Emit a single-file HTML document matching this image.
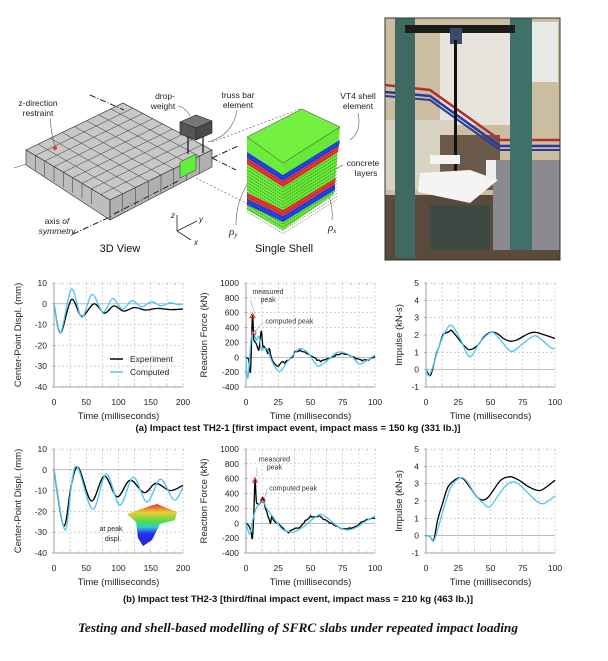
<!DOCTYPE html>
<html><head><meta charset="utf-8">
<style>
html,body{margin:0;padding:0;background:#fff;}
svg{display:block;font-family:"Liberation Sans",Arial,sans-serif;}
</style></head>
<body>
<svg id="s" width="608" height="661" viewBox="0 0 608 661" xmlns="http://www.w3.org/2000/svg">
<g stroke="#222" stroke-width="0.6">
  <polygon points="26,150 123,103 212,150 110,200" fill="#c8c8c8"/>
  <polygon points="26,150 110,200 110,220 26,165" fill="#bdbdbd"/>
  <polygon points="110,200 212,150 212,167 110,220" fill="#b0b0b0"/>
</g>
<g id="grid3d" stroke="#333" stroke-width="0.5" fill="none"></g>
<polygon points="180,162 196,154 196,170 180,178" fill="#5ef03a" stroke="#333" stroke-width="0.5"/>
<circle cx="55" cy="148" r="2" fill="#e33"/>
<g stroke="#222" stroke-width="1" stroke-dasharray="6,2,1,2" fill="none">
  <line x1="90" y1="95" x2="124" y2="110"/>
  <line x1="73" y1="234" x2="112" y2="216"/>
  <line x1="114" y1="214" x2="180" y2="180"/>
  <line x1="212" y1="158" x2="238" y2="146"/>
  <line x1="212" y1="158" x2="236" y2="170"/>
</g>
<line x1="14" y1="168" x2="26" y2="164" stroke="#555" stroke-width="0.6"/>
<g stroke="#222" stroke-width="0.6">
  <polygon points="180,122 196,115 212,121 196,128" fill="#777"/>
  <polygon points="180,122 196,128 196,140 180,134" fill="#555"/>
  <polygon points="196,128 212,121 212,133 196,140" fill="#4a4a4a"/>
</g>
<line x1="188" y1="137" x2="188" y2="154" stroke="#111" stroke-width="1.2"/>
<line x1="203" y1="137" x2="203" y2="153" stroke="#111" stroke-width="1.2"/>
<g stroke="#555" stroke-width="0.6" fill="none">
  <path d="M50,118 Q52,138 55,146"/>
  <path d="M178,106 Q186,108 190,116"/>
  <path d="M237,110 Q233,135 208,142"/>
  <line x1="212" y1="142" x2="300" y2="109" stroke-dasharray="2,2"/>
  <line x1="196" y1="178" x2="250" y2="205" stroke-dasharray="2,2"/>
  <path d="M358,113 Q362,132 350,140"/>
  <path d="M343,165 Q338,168 334,170"/>
  <path d="M236,225 Q236,200 250,180"/>
  <path d="M332,220 Q334,200 320,180"/>
</g>
<g>
  <polygon points="247,137 283,163 283,230 247,210" fill="#6cec3c"/>
  <polygon points="283,163 340,127 334,194 283,230" fill="#66e838"/>
  <polygon points="247,152 283,175 283,181 247,158" fill="#2244ee"/>
  <polygon points="283,175 340,140 339,146 283,181" fill="#2244ee"/>
  <polygon points="247,158 283,181 283,187 247,164" fill="#ee3333"/>
  <polygon points="283,181 339,146 338,152 283,187" fill="#ee3333"/>
  <polygon points="247,193 283,210 283,216 247,199" fill="#ee3333"/>
  <polygon points="283,210 336,178 335,184 283,216" fill="#ee3333"/>
  <polygon points="247,199 283,216 283,222 247,205" fill="#2244ee"/>
  <polygon points="283,216 335,184 335,190 283,222" fill="#2244ee"/>
  <g id="lay" stroke="#111" stroke-width="0.4" stroke-dasharray="1.5,1" fill="none"></g>
  <polygon points="247,137 302,109 340,127 283,163" fill="#74f040" stroke="#333" stroke-width="0.5"/>
</g>
<g stroke="#222" stroke-width="0.8" fill="none">
  <line x1="177" y1="231" x2="177" y2="215"/>
  <line x1="177" y1="231" x2="197" y2="221"/>
  <line x1="177" y1="231" x2="191" y2="240"/>
</g>
<g font-size="8" fill="#222" font-style="italic">
  <text x="171" y="218">z</text><text x="199" y="222">y</text><text x="194" y="245">x</text>
</g>
<g font-size="8.5" fill="#222" text-anchor="middle">
  <text x="38" y="106">z-direction</text><text x="38" y="116">restraint</text>
  <text x="165" y="99">drop-</text><text x="163" y="109">weight</text>
  <text x="238" y="98">truss bar</text><text x="238" y="108">element</text>
  <text x="358" y="99">VT4 shell</text><text x="358" y="109">element</text>
  <text x="363" y="166">concrete</text><text x="366" y="176">layers</text>
  <text x="57" y="224">axis <tspan font-style="italic">of</tspan></text>
  <text x="57" y="234" font-style="italic">symmetry</text>
</g>
<g font-size="11" fill="#222" font-style="italic" font-family="Liberation Serif,serif">
  <text x="229" y="235">ρ<tspan font-size="7" dy="2">y</tspan></text>
  <text x="328" y="231">ρ<tspan font-size="7" dy="2">x</tspan></text>
</g>
<g font-size="11" fill="#111" text-anchor="middle">
  <text x="120" y="252">3D View</text><text x="284" y="252">Single Shell</text>
</g>
<g>
  <rect x="385" y="18" width="175" height="242" fill="#cbbd9f"/>
  <rect x="440" y="25" width="70" height="100" fill="#e6e4dc"/>
  <rect x="530" y="22" width="28" height="60" fill="#e8eae8"/>
  <rect x="385" y="120" width="70" height="70" fill="#d8d2c2"/>
  <rect x="385" y="195" width="175" height="65" fill="#5a4a3c"/>
  <rect x="440" y="135" width="60" height="55" fill="#6b5a4a"/>
  <path d="M385,85 L430,90 L500,140 L560,140" stroke="#b03030" stroke-width="2.5" fill="none"/>
  <path d="M385,92 L430,96 L500,146 L560,146" stroke="#2a3a9a" stroke-width="2.5" fill="none"/>
  <path d="M385,96 L430,100 L500,150 L560,150" stroke="#2a3a9a" stroke-width="2" fill="none"/>
  <rect x="493" y="160" width="67" height="90" fill="#8a8a90"/>
  <rect x="395" y="18" width="20" height="240" fill="#3e6a62"/>
  <rect x="510" y="18" width="22" height="232" fill="#40706a"/>
  <rect x="405" y="25" width="110" height="8" fill="#1c1c1c"/>
  <rect x="450" y="28" width="12" height="16" fill="#3a4a6a"/>
  <rect x="454" y="40" width="3" height="150" fill="#111"/>
  <polygon points="420,173 470,170 498,180 470,203 418,192" fill="#f4f4f4"/>
  <rect x="430" y="155" width="30" height="9" fill="#f4f4f4"/>
  <rect x="486" y="160" width="10" height="20" fill="#eee"/>
  <rect x="430" y="205" width="60" height="45" fill="#3d4a44"/>
  <rect x="385" y="18" width="175" height="242" fill="none" stroke="#333" stroke-width="1"/>
</g>
<g id="charts"></g>
<g font-weight="bold" font-size="9" fill="#111" text-anchor="middle">
  <text x="298" y="431" textLength="325" lengthAdjust="spacingAndGlyphs">(a) Impact test TH2-1 [first impact event, impact mass = 150 kg (331 lb.)]</text>
  <text x="298" y="602" textLength="350" lengthAdjust="spacingAndGlyphs">(b) Impact test TH2-3 [third/final impact event, impact mass = 210 kg (463 lb.)]</text>
</g>
<text x="298" y="632" text-anchor="middle" font-family="Liberation Serif,serif" font-style="italic" font-weight="bold" font-size="13" fill="#111" textLength="440" lengthAdjust="spacingAndGlyphs">Testing and shell-based modelling of SFRC slabs under repeated impact loading</text>
</svg>
<script>
var NS="http://www.w3.org/2000/svg";
function el(p,t,a,txt){var e=document.createElementNS(NS,t);for(var k in a)e.setAttribute(k,a[k]);if(txt!=null)e.textContent=txt;p.appendChild(e);return e;}
var g3=document.getElementById('grid3d');
function L(a,b,t){return [a[0]+(b[0]-a[0])*t,a[1]+(b[1]-a[1])*t];}
var A=[26,150],B=[123,103],C=[212,150],D=[110,200];
for(var i=1;i<9;i++){var t=i/9;var p=L(A,D,t),q=L(B,C,t);el(g3,'line',{x1:p[0],y1:p[1],x2:q[0],y2:q[1]});}
for(var i=1;i<8;i++){var t=i/8;var p=L(A,B,t),q=L(D,C,t);el(g3,'line',{x1:p[0],y1:p[1],x2:q[0],y2:q[1]});}
for(var i=1;i<8;i++){var t=i/8;var p=L(A,D,i/9);el(g3,'line',{x1:p[0],y1:p[1],x2:p[0],y2:p[1]+15});var q=L(D,C,t);el(g3,'line',{x1:q[0],y1:q[1],x2:q[0],y2:q[1]+18});}
var lay=document.getElementById('lay');
for(var y=168;y<228;y+=3.2){el(lay,'path',{d:'M247,'+(y-14)+' L283,'+(y+8)+' L337,'+(y-26)});}
var CH=document.getElementById('charts');
function cr(pts){var d='M'+pts[0][0].toFixed(1)+','+pts[0][1].toFixed(1);
 for(var i=0;i<pts.length-1;i++){var p0=pts[Math.max(0,i-1)],p1=pts[i],p2=pts[i+1],p3=pts[Math.min(pts.length-1,i+2)];
 var c1=[p1[0]+(p2[0]-p0[0])/6,p1[1]+(p2[1]-p0[1])/6],c2=[p2[0]-(p3[0]-p1[0])/6,p2[1]-(p3[1]-p1[1])/6];
 d+=' C'+c1[0].toFixed(1)+','+c1[1].toFixed(1)+' '+c2[0].toFixed(1)+','+c2[1].toFixed(1)+' '+p2[0].toFixed(1)+','+p2[1].toFixed(1);}return d;}
function chart(o){
 var x0=o.x0,x1=o.x0+129,y0=o.y0,y1=o.y0+104;
 var X=function(v){return x0+(v-o.xr[0])/(o.xr[1]-o.xr[0])*(x1-x0);};
 var Y=function(v){return y1-(v-o.yr[0])/(o.yr[1]-o.yr[0])*(y1-y0);};
 var g=el(CH,'g',{});
 for(var i=1;i<=8;i++){var x=x0+i*(x1-x0)/8;el(g,'line',{x1:x,y1:y0,x2:x,y2:y1,stroke:'#bbb','stroke-width':0.6,'stroke-dasharray':'2,2'});}
 for(var i=0;i<o.yt.length;i++){var y=Y(o.yt[i]);el(g,'line',{x1:x0,y1:y,x2:x1,y2:y,stroke:o.yt[i]==0?'#999':'#bbb','stroke-width':0.6,'stroke-dasharray':o.yt[i]==0?'':'2,2'});
  el(g,'line',{x1:x0-2,y1:y,x2:x0,y2:y,stroke:'#888','stroke-width':0.6});
  el(g,'text',{x:x0-7,y:y+3,'font-size':8.5,'text-anchor':'end',fill:'#222'},o.yt[i]);}
 for(var i=0;i<=16;i++){var x=x0+i*(x1-x0)/16;el(g,'line',{x1:x,y1:y0,x2:x,y2:y0+2,stroke:'#999','stroke-width':0.5});el(g,'line',{x1:x,y1:y1-2,x2:x,y2:y1,stroke:'#999','stroke-width':0.5});}
 el(g,'line',{x1:x0,y1:y0,x2:x0,y2:y1,stroke:'#888','stroke-width':0.8});
 el(g,'line',{x1:x0,y1:y1,x2:x1,y2:y1,stroke:'#888','stroke-width':0.8});
 for(var i=0;i<o.xt.length;i++){el(g,'text',{x:X(o.xt[i]),y:y1+18,'font-size':8.5,'text-anchor':'middle',fill:'#222'},o.xt[i]);}
 el(g,'text',{x:(x0+x1)/2,y:y1+32,'font-size':9.5,'text-anchor':'middle',fill:'#222'},'Time (milliseconds)');
 var tx=o.tx;el(g,'text',{x:tx,y:(y0+y1)/2,'font-size':9.5,'text-anchor':'middle',fill:'#222',transform:'rotate(-90 '+tx+' '+(y0+y1)/2+')'},o.yl);
 if(o.extra)o.extra(g,X,Y);
 el(g,'path',{d:cr(o.exp.map(function(p){return[X(p[0]),Y(p[1])];})),stroke:'#000','stroke-width':1.3,fill:'none'});
 el(g,'path',{d:cr(o.cmp.map(function(p){return[X(p[0]),Y(p[1])];})),stroke:'#4cc8f0','stroke-width':1.3,fill:'none'});
 if(o.after)o.after(g,X,Y);
}
function jag(pts,amp){var out=[];for(var i=0;i<pts.length-1;i++){var a=pts[i],b=pts[i+1];out.push(a);var n=Math.floor((b[0]-a[0])/0.8);for(var k=1;k<n;k++){var t=k/n;out.push([a[0]+(b[0]-a[0])*t,a[1]+(b[1]-a[1])*t+(Math.sin(k*12.9+i*7.1)*amp)]);}}out.push(pts[pts.length-1]);return out;}
function peaks(tri,cir,mx,my,cx,cy){return function(g,X,Y){
 el(g,'line',{x1:X(tri[0])+2,y1:Y(tri[1])-3,x2:X(mx)-2,y2:Y(my)+6,stroke:'#888','stroke-width':0.5});
 el(g,'line',{x1:X(cir[0])+2,y1:Y(cir[1])-2,x2:X(cx)-2,y2:Y(cy),stroke:'#888','stroke-width':0.5});
 var tx=X(tri[0]),ty=Y(tri[1]);el(g,'polygon',{points:(tx-2.5)+','+(ty+2)+' '+(tx+2.5)+','+(ty+2)+' '+tx+','+(ty-2.5),fill:'none',stroke:'#d22','stroke-width':0.9});
 el(g,'circle',{cx:X(cir[0]),cy:Y(cir[1]),r:2.2,fill:'none',stroke:'#d22','stroke-width':0.9});
 el(g,'text',{x:X(mx),y:Y(my),'font-size':7,fill:'#333'},'measured');
 el(g,'text',{x:X(mx)+8,y:Y(my)+8,'font-size':7,fill:'#333'},'peak');
 el(g,'text',{x:X(cx),y:Y(cy)+2,'font-size':7,fill:'#333'},'computed peak');};}
chart({x0:54,y0:283,xr:[0,200],yr:[-40,10],yt:[10,0,-10,-20,-30,-40],xt:[0,50,100,150,200],tx:21,yl:'Center-Point Displ. (mm)',
 exp:[[0,0],[10,-14],[27,2],[43,-6],[62,0],[78,-4.5],[93,-1],[108,-3.5],[125,-1.8],[142,-3],[160,-2.2],[180,-2.8],[200,-2.5]],
 cmp:[[0,0],[10,-14],[27,7],[43,-6.5],[59,4.5],[76,-4],[91,2.5],[106,-2.5],[121,1.5],[136,-1.5],[151,1],[166,-1],[180,0.5],[193,-0.5],[200,0]],
 after:function(g){el(g,'line',{x1:110,y1:359,x2:123,y2:359,stroke:'#000','stroke-width':1.5});el(g,'text',{x:130,y:362,'font-size':8.5,fill:'#222'},'Experiment');
  el(g,'line',{x1:110,y1:372,x2:123,y2:372,stroke:'#4cc8f0','stroke-width':1.5});el(g,'text',{x:130,y:375,'font-size':8.5,fill:'#222'},'Computed');}});
chart({x0:246,y0:283,xr:[0,100],yr:[-400,1000],yt:[1000,800,600,400,200,0,-200,-400],xt:[0,25,50,75,100],tx:207,yl:'Reaction Force (kN)',
 exp:jag([[0,0],[2,-30],[3.5,-180],[5,550],[6,250],[8,180],[10,100],[11,250],[12,350],[13,150],[15,120],[17,50],[18,120],[20,-20],[23,-100],[25,-120],[28,-60],[30,-80],[33,-40],[36,0],[38,80],[42,100],[46,70],[50,20],[55,-40],[58,-60],[62,-30],[66,0],[70,40],[75,60],[80,30],[85,-20],[90,-50],[95,-40],[100,10]],12),
 cmp:[[0,0],[1.5,-280],[4,250],[6,330],[8,230],[10,280],[12,100],[14,120],[17,100],[20,-50],[26,-190],[32,-60],[36,20],[42,120],[48,60],[52,-40],[56,-120],[62,-60],[70,60],[76,60],[82,10],[88,-90],[94,-40],[100,30]],
 after:peaks([5,560],[6,330],5,850,15,480)});
chart({x0:426,y0:283,xr:[0,100],yr:[-1,5],yt:[5,4,3,2,1,0,-1],xt:[0,25,50,75,100],tx:402,yl:'Impulse (kN-s)',
 exp:[[0,0],[3,-0.35],[5,0],[8,0.9],[10,1.3],[13,2.0],[15,2.1],[18,2.2],[20,2.25],[25,1.8],[30,1.35],[34,1.15],[40,1.4],[45,1.9],[50,2.15],[55,2.1],[60,1.8],[65,1.65],[70,1.7],[80,2.1],[85,2.15],[90,2.05],[100,1.8]],
 cmp:[[0,0],[2,-0.35],[5,0.1],[10,1.3],[15,2.2],[20,2.55],[27,1.7],[34,0.75],[42,1.6],[51,2.15],[58,1.7],[66,1.05],[75,1.5],[84,1.95],[90,1.7],[97,1.25],[100,1.25]]});
chart({x0:54,y0:449,xr:[0,200],yr:[-40,10],yt:[10,0,-10,-20,-30,-40],xt:[0,50,100,150,200],tx:21,yl:'Center-Point Displ. (mm)',
 exp:[[0,0],[15,-27],[27,-7],[38,1],[58,-15],[78,-3],[98,-13],[118,-5],[140,-11],[158,-6.5],[180,-10],[200,-7.5]],
 cmp:[[0,0],[17,-29],[28,-5],[37,1],[60,-19],[81,-2],[102,-17],[123,-3.5],[144,-15.5],[165,-4.5],[186,-14.5],[200,-8.5]],
 after:function(g){
  var gr=el(g,'defs',{});var lg=el(gr,'linearGradient',{id:'hm',x1:0,y1:0,x2:0,y2:1});
  el(lg,'stop',{offset:0,'stop-color':'#e33'});el(lg,'stop',{offset:0.2,'stop-color':'#ec3'});el(lg,'stop',{offset:0.4,'stop-color':'#5d4'});el(lg,'stop',{offset:0.55,'stop-color':'#3cc'});el(lg,'stop',{offset:0.7,'stop-color':'#23e'});el(lg,'stop',{offset:1,'stop-color':'#22d'});
  el(g,'polygon',{points:'127,514 150,506 157,504 177,512 175,520 160,524 152,540 143,546 138,538 136,522',fill:'url(#hm)'});
  el(g,'text',{x:111,y:531,'font-size':7,fill:'#222','text-anchor':'middle'},'at peak');
  el(g,'text',{x:113,y:541,'font-size':7,fill:'#222','text-anchor':'middle'},'displ.');}});
chart({x0:246,y0:449,xr:[0,100],yr:[-400,1000],yt:[1000,800,600,400,200,0,-200,-400],xt:[0,25,50,75,100],tx:207,yl:'Reaction Force (kN)',
 exp:jag([[0,0],[2,-30],[4,-120],[5,-200],[6,100],[7,580],[8,300],[10,250],[12,300],[13,350],[15,200],[17,100],[19,0],[20,100],[22,30],[26,-20],[30,-100],[33,-130],[37,-80],[42,-50],[46,40],[50,100],[54,90],[57,100],[60,50],[65,0],[70,-40],[75,-70],[80,-60],[85,-40],[90,20],[95,50],[100,60]],12),
 cmp:[[0,0],[3,-150],[5,30],[8,200],[13,300],[16,200],[22,60],[28,-80],[33,-110],[37,-120],[45,-40],[52,60],[58,120],[64,60],[70,-30],[78,-90],[85,-60],[92,20],[100,100]],
 after:peaks([7,580],[13,310],10,830,18,470)});
chart({x0:426,y0:449,xr:[0,100],yr:[-1,5],yt:[5,4,3,2,1,0,-1],xt:[0,25,50,75,100],tx:402,yl:'Impulse (kN-s)',
 exp:[[0,0],[3,-0.05],[6,-0.25],[9,0.9],[13,1.9],[17,2.8],[22,3.2],[27,3.35],[30,3.2],[35,2.7],[40,2.2],[44,2.05],[48,2.2],[52,2.6],[58,3.2],[65,3.4],[72,3.2],[80,2.8],[88,2.6],[94,2.85],[100,3.2]],
 cmp:[[0,0],[3,-0.05],[6,-0.3],[10,0.6],[15,1.9],[20,2.9],[27,3.35],[32,3.1],[38,2.4],[44,1.9],[49,1.65],[55,2.2],[62,2.9],[69,3.1],[76,2.7],[84,2.1],[91,1.85],[100,2.3]]});
</script>
</body></html>
